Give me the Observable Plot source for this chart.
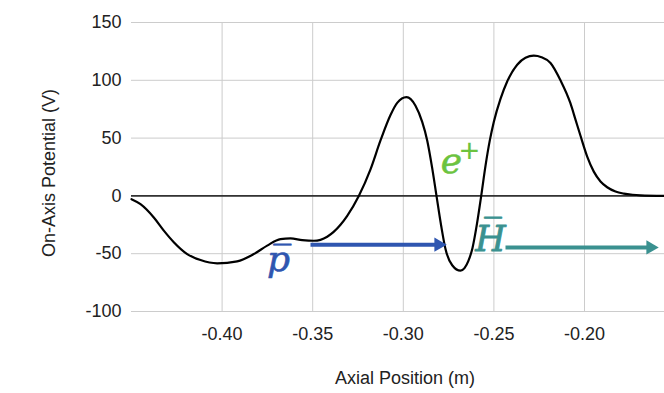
<!DOCTYPE html>
<html><head><meta charset="utf-8">
<script src="https://cdn.jsdelivr.net/npm/d3@7"></script>
<script src="https://cdn.jsdelivr.net/npm/@observablehq/plot@0.6"></script>
<style>body{margin:0;background:#fff} svg{display:block}</style>
</head><body><div id="chart"></div>
<script>
// Axial position (m) and on-axis potential (V)
const positionM = [-0.45000,-0.44503,-0.43769,-0.43217,-0.42666,-0.41926,-0.41192,-0.40270,-0.39167,-0.38250,-0.37511,-0.36777,-0.36225,-0.35579,-0.34939,-0.34200,-0.33466,-0.33096,-0.32456,-0.31810,-0.31258,-0.30706,-0.30337,-0.29823,-0.29327,-0.28957,-0.28681,-0.28405,-0.28168,-0.27908,-0.27671,-0.27301,-0.26843,-0.26623,-0.26402,-0.26181,-0.25933,-0.25701,-0.25464,-0.25226,-0.25006,-0.24636,-0.24266,-0.23714,-0.23256,-0.22798,-0.22373,-0.21876,-0.21325,-0.20773,-0.20497,-0.20221,-0.19851,-0.19487,-0.19117,-0.18748,-0.18289,-0.17831,-0.17351,-0.16910,-0.15585];
const potentialV = [-2.9,-7.2,-18.7,-30,-40,-50.3,-55.5,-58.3,-56.6,-50.3,-43,-37.4,-36.8,-38.2,-38.8,-35.3,-25,-17.2,0,23,48,70,80.5,85.4,78,64,48,24,0,-26,-46,-60,-64.7,-62.5,-56,-45,-24,0,26,48,64,84,99,113.5,119.5,121.3,120,115,100,80,66,52,34,21,12.5,7.5,3.8,2,1,0.5,0];
const xTicks = [-0.40,-0.35,-0.30,-0.25,-0.20];
const yTicks = [-100,-50,0,50,100,150];
// Annotation arrows: antiproton beam and antihydrogen beam
const arrowX1 = [-0.35121,-0.24360];
const arrowX2 = [-0.27616,-0.15916];
const arrowY = [-42.2,-44.6];
const arrowColors = ["#2f56b0","#3a9190"];

const curve = positionM.map((x,i)=>({x, y: potentialV[i]}));
const arrows = arrowX1.map((x1,i)=>({x1, x2: arrowX2[i], y: arrowY[i], c: arrowColors[i]}));

const font = "'Liberation Sans', Arial, sans-serif";
const serif = "'DejaVu Serif', serif";

const plot = Plot.plot({
  width: 664, height: 393,
  marginLeft: 131, marginRight: 0, marginTop: 22, marginBottom: 82,
  style: {fontFamily: font, fontSize: "18px", color: "#222", background: "#fff"},
  x: {domain: [-0.45, -0.15585], label: null},
  y: {domain: [-100, 150], label: null},
  marks: [
    Plot.gridX(xTicks, {stroke: "#ccc", strokeOpacity: 1, strokeWidth: 1}),
    Plot.gridY(yTicks, {stroke: "#ccc", strokeOpacity: 1, strokeWidth: 1}),
    Plot.axisX(xTicks, {tickSize: 0, tickPadding: 16, tickFormat: d => d.toFixed(2), label: null, fontSize: 18}),
    Plot.axisY(yTicks, {tickSize: 0, tickPadding: 10, tickFormat: d => String(d), label: null, fontSize: 18}),
    Plot.ruleY([0], {stroke: "#333", strokeWidth: 1.6}),
    Plot.line(curve, {x: "x", y: "y", stroke: "#000", strokeWidth: 2.2, curve: "monotone-x"}),
    Plot.link(arrows, {x1: "x1", x2: d => d.x2 - 0.004, y1: "y", y2: "y", stroke: "c", strokeWidth: 4}),
    Plot.dot(arrows, {x: "x2", y: "y", symbol: "triangle", rotate: 90, r: 5.3, fill: "c", stroke: null, dx: -8}),
    Plot.text(["p\u0305"], {x: -0.36887, y: -64.6, lineAnchor: "bottom", fontFamily: serif, fontStyle: "italic", fontSize: 36, fill: "#2f56b0", stroke: "#2f56b0", strokeWidth: 0.6}),
    Plot.text(["e"], {x: -0.27340, y: 19.8, lineAnchor: "bottom", fontFamily: serif, fontStyle: "italic", fontSize: 36, fill: "#6cc33f", stroke: "#6cc33f", strokeWidth: 0.6}),
    Plot.text(["+"], {x: -0.27340, y: 19.8, lineAnchor: "middle", dx: 18, dy: -22, fontFamily: font, fontSize: 34, fill: "#6cc33f"}),
    Plot.text(["H\u0305"], {x: -0.25188, y: -47.4, lineAnchor: "bottom", fontFamily: serif, fontStyle: "italic", fontSize: 35, fill: "#3a9190", stroke: "#3a9190", strokeWidth: 0.8}),
    Plot.text(["Axial Position (m)"], {frameAnchor: "bottom", dy: 72, dx: 7, fontSize: 18, fill: "#222"}),
    Plot.text(["On-Axis Potential (V)"], {frameAnchor: "left", textAnchor: "middle", dx: -82, dy: 6, rotate: -90, fontSize: 18, fill: "#222"})
  ]
});
document.getElementById("chart").appendChild(plot);
</script>
</body></html>
